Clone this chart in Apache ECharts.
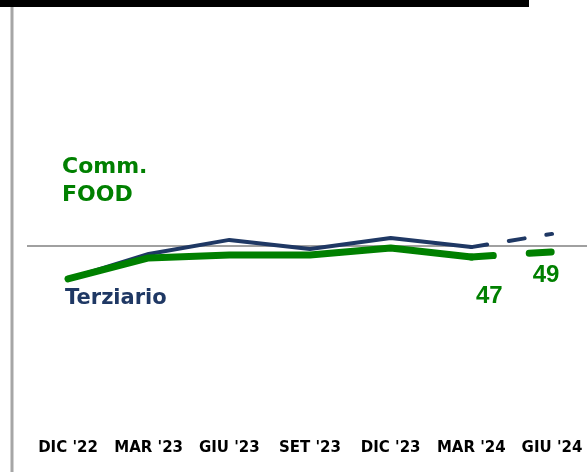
<!DOCTYPE html>
<html>
<head>
<meta charset="utf-8">
<script src="https://cdn.jsdelivr.net/npm/echarts@6/dist/echarts.min.js"></script>
<style>
	html, body { margin: 0; padding: 0; background: #fff; }
	#chart { width: 587px; height: 472px; }
</style>
</head>
<body>
<div id="chart"></div>
<script>
var categories = ["DIC '22", "MAR '23", "GIU '23", "SET '23", "DIC '23", "MAR '24", "GIU '24"]
var terziario = [39.7, 48.0, 52.7, 49.7, 53.3, 50.3, 54.7]
var commFood = [39.7, 46.7, 47.7, 47.7, 50.0, 47.0, 48.7]
var baseline = 50.7

var NAVY = '#1f3864'
var GREEN = '#008000'

// solid part up to MAR '24, dashed part MAR '24 -> GIU '24
function solidPart(arr) {
	return arr.map(function (v, i) { return i < arr.length - 1 ? v : null })
}
function dashedPart(arr) {
	return arr.map(function (v, i) { return i >= arr.length - 2 ? v : null })
}

var myChart = echarts.init(document.getElementById('chart'))

function valueLabel(idx, offset) {
	return {
		show: true,
		position: 'bottom',
		offset: offset,
		color: GREEN,
		fontFamily: 'Liberation Sans',
		fontWeight: 'bold',
		fontSize: 24,
		formatter: function (p) {
			return p.dataIndex === idx ? String(Math.round(p.value)) : ''
		}
	}
}

myChart.setOption({
	animation: false,
	grid: { left: 68, right: 35, top: 98, bottom: 74 },
	xAxis: {
		type: 'category',
		boundaryGap: false,
		data: categories,
		axisLine: { show: false },
		axisTick: { show: false },
		axisLabel: {
			margin: 43,
			color: '#000',
			fontFamily: 'DejaVu Sans',
			fontWeight: 'bold',
			fontSize: 15,
			interval: 0
		}
	},
	yAxis: {
		type: 'value',
		min: 0,
		max: 100,
		show: false,
		splitLine: { show: false }
	},
	series: [
		{
			name: 'Terziario',
			type: 'line',
			data: solidPart(terziario),
			symbol: 'none',
			lineStyle: { color: NAVY, width: 4, cap: 'round', join: 'round' }
		},
		{
			name: 'Terziario prev',
			type: 'line',
			data: dashedPart(terziario),
			symbol: 'none',
			lineStyle: { color: NAVY, width: 4, cap: 'round', type: [16, 22] }
		},
		{
			name: 'Comm. FOOD',
			type: 'line',
			data: solidPart(commFood),
			symbol: 'circle',
			symbolSize: 1,
			showSymbol: true,
			itemStyle: { color: 'rgba(0,0,0,0)' },
			label: valueLabel(5, [18, 22]),
			lineStyle: { color: GREEN, width: 7, cap: 'round', join: 'round' }
		},
		{
			name: 'Comm. FOOD prev',
			type: 'line',
			data: dashedPart(commFood),
			symbol: 'circle',
			symbolSize: 1,
			showSymbol: true,
			itemStyle: { color: 'rgba(0,0,0,0)' },
			label: valueLabel(6, [-6, 6]),
			lineStyle: { color: GREEN, width: 7, cap: 'round', type: [22, 36] }
		}
	]
})

var baseY = myChart.convertToPixel({ yAxisIndex: 0 }, baseline)

myChart.setOption({
	graphic: [
		{ type: 'rect', shape: { x: 0, y: 0, width: 529, height: 7 }, style: { fill: '#000' }, silent: true },
		{ type: 'rect', shape: { x: 10.5, y: 7, width: 3, height: 465 }, style: { fill: '#a6a6a6' }, silent: true },
		{
			type: 'line', z: -1,
			shape: { x1: 27, y1: baseY, x2: 587, y2: baseY },
			style: { stroke: '#a0a0a0', lineWidth: 2 },
			silent: true
		},
		{
			type: 'text', left: 62, top: 153,
			style: { text: 'Comm.\nFOOD', fill: GREEN, font: 'bold 22px "DejaVu Sans"', lineHeight: 28 }
		},
		{
			type: 'text', left: 65, top: 288,
			style: { text: 'Terziario', fill: NAVY, font: 'bold 21px "DejaVu Sans"' }
		}
	]
})
</script>
</body>
</html>
